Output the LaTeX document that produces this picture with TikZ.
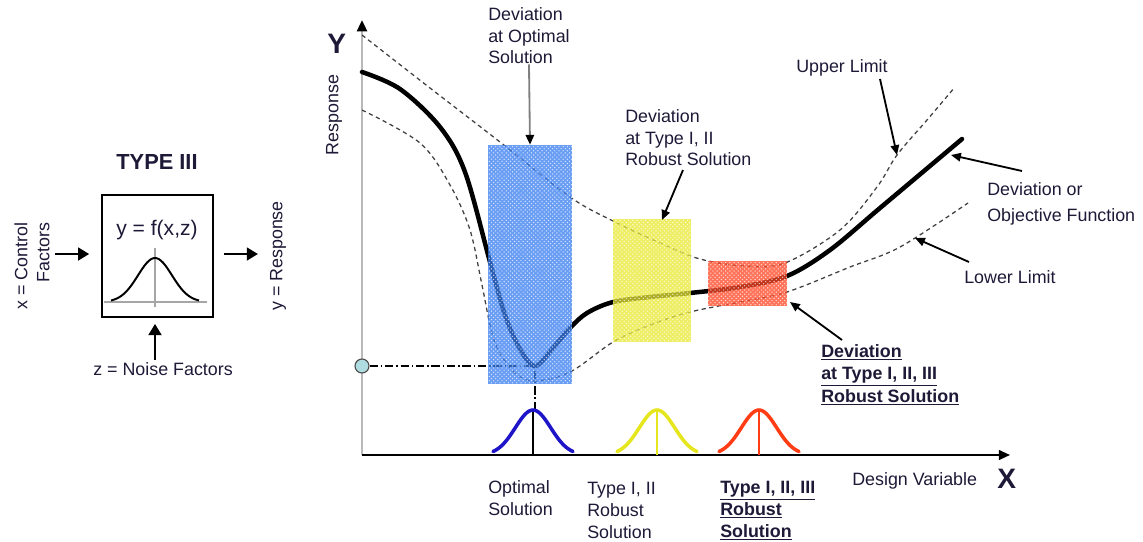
\documentclass[tikz,border=0pt]{standalone}
\usepackage{fontspec}
\setmainfont{Liberation Sans}
\usetikzlibrary{arrows.meta,patterns}
\definecolor{txt}{RGB}{30,25,55}
\definecolor{bluebox}{RGB}{55,125,240}
\definecolor{yellowbox}{RGB}{232,232,50}
\definecolor{redbox}{RGB}{255,70,35}
\definecolor{bluebell}{RGB}{30,20,200}
\definecolor{yellowbell}{RGB}{230,230,30}
\definecolor{redbell}{RGB}{255,60,20}
\definecolor{dotfill}{RGB}{175,220,225}
\tikzset{lbl/.style={font=\fontsize{12.7}{15.5}\selectfont,text=txt,align=left,inner sep=0pt,anchor=base west},
 mlbl/.style={lbl,anchor=north west},
 arr/.style={-{Triangle[length=7pt,width=6pt,color=black]},line width=1.3pt},
 bigarr/.style={-{Triangle[length=8pt,width=9pt]},line width=2pt},
 limit/.style={dash pattern=on 3pt off 2.5pt,line width=0.9pt,black!75},
 objcurve/.style={line width=3.2pt,line cap=round},
 bell/.style={line width=2.5pt,line cap=round},
 devrect/.style={fill=#1,fill opacity=0.75,draw=none,inner sep=0pt,
  postaction={pattern=crosshatch dots,pattern color=white}},
 dashdot/.style={dash pattern=on 6pt off 2pt on 1pt off 2pt,line width=0.8pt}}

\begin{document}
\begin{tikzpicture}[x=0.025cm,y=-0.025cm]
\useasboundingbox (0,0) rectangle (1143,541);
\node[font=\fontsize{15.5}{18}\selectfont\bfseries,text=txt,anchor=base] (typeLbl) at (157,169) {TYPE III};
\node[draw,line width=1.1pt,minimum width=2.775cm,minimum height=3.05cm] (sysBox) at (157.5,256) {};
\node[font=\fontsize{15}{18}\selectfont,text=txt,anchor=base] (fxzLbl) at (157,235) {y = f(x,z)};
\draw[gray!70,line width=0.8pt] (104,302) -- (207,302) (155,248) -- (155,307);
\draw[line width=1.4pt] plot[domain=-44:44,samples=45] ({155+\x},{302-44*exp(-(\x/24)*(\x/24))});
\node[lbl,anchor=center,rotate=90,align=right] (ctrlLbl) at (32,266) {x = Control\\Factors};
\node[lbl,anchor=center,rotate=90] (respOut) at (278,256) {y = Response};
\node[lbl,anchor=base] (noiseLbl) at (163,375) {z = Noise Factors};
\coordinate (ctrlIn) at (55,254);
\coordinate (respIn) at (258,254);
\coordinate (noiseIn) at (155,360);
\draw[bigarr,shorten >=8.5pt] (ctrlIn) -- (ctrlIn -| sysBox.west);
\draw[bigarr,shorten <=7pt] (sysBox.east |- respIn) -- (respIn);
\draw[bigarr,shorten >=4.3pt] (noiseIn) -- (noiseIn |- sysBox.south);

\coordinate (origin) at (362,455);
\coordinate (yTop) at (362,20);
\coordinate (xEnd) at (1010,455);
\coordinate (minPt) at (535,366);
\draw[gray!55,line width=1.8pt,-{Triangle[length=8pt,width=7pt,color=black]}] (origin) -- (yTop);
\draw[line width=1.4pt,-{Triangle[length=8pt,width=7pt]}] (origin) -- (xEnd);
\node[font=\fontsize{20}{24}\selectfont\bfseries,text=txt,inner sep=0pt,anchor=base west] (yLbl) at (327,53) {Y};
\node[font=\fontsize{20}{24}\selectfont\bfseries,text=txt,inner sep=0pt,anchor=base west] (xLbl) at (997,488) {X};
\node[lbl,anchor=center,rotate=90] (respLbl) at (334,115) {Response};
\node[lbl] (dvLbl) at (852,485) {Design Variable};

\draw[limit] plot[smooth,tension=0.55] coordinates {(362,35) (430,88) (500,142) (570,197) (613,221) (660,243) (700,259) (745,266) (785,263) (840,230) (877,187) (897,155) (927,120) (955,87)};
\draw[limit] plot[smooth,tension=0.55] coordinates {(362,110) (420,143) (450,185) (470,230) (482,285) (494,340) (512,370) (533,381) (570,372) (613,342) (650,325) (690,312) (740,302) (787,292) (850,267) (900,247) (968,203)};
\draw[objcurve] plot[smooth,tension=0.55] coordinates {(362,72) (400,89) (440,127) (465,172) (490,262) (505,315) (520,349) (535,366) (553,348) (570,328) (587,313) (613,302) (650,297) (690,293) (740,287) (787,276) (830,250) (880,208) (962,139)};

\node[circle,draw=black!70,fill=dotfill,line width=0.8pt,minimum size=0.35cm,inner sep=0pt] (yOpt) at (362,366) {};
\draw[dashdot] (yOpt) -- (minPt) -- (535,410);

\node[devrect=bluebox,minimum width=2.1cm,minimum height=5.975cm] (optBox) at (530,264.5) {};
\node[devrect=yellowbox,minimum width=1.95cm,minimum height=3.075cm] (t12Box) at (652,280.5) {};
\node[devrect=redbox,minimum width=1.975cm,minimum height=1.125cm] (t123Box) at (747.5,283.5) {};

\foreach \c/\col/\mid in {533/bluebell/black,657/yellowbell/yellowbell,759/redbell/redbell}{
 \draw[\mid,line width=1pt] (\c,410) -- (\c,455);
 \draw[bell,\col] plot[domain=-40:40,samples=41] ({\c+\x},{455-45*exp(-(\x/25)*(\x/25))});}

\node[mlbl] (optLbl) at (488,7) {Deviation\\at Optimal\\Solution};
\node[mlbl] (t12Lbl) at (625,109) {Deviation\\at Type I, II\\Robust Solution};
\node[lbl] (uppLbl) at (796,72) {Upper Limit};
\node[mlbl] (objLbl) at (987,182) {Deviation or\\[3pt]Objective Function};
\node[lbl] (lowLbl) at (964,283) {Lower Limit};
\node[mlbl,font=\fontsize{12.7}{16}\selectfont\bfseries] (t123Lbl) at (821,344) {\underline{Deviation}\\\underline{at Type I, II, III}\\\underline{Robust Solution}};
\node[mlbl] (optSol) at (488,480) {Optimal\\Solution};
\node[mlbl] (t12Sol) at (587,482) {Type I, II\\Robust\\Solution};
\node[mlbl,font=\fontsize{12.7}{15.5}\selectfont\bfseries] (t123Sol) at (720,481) {\underline{Type I, II, III}\\\underline{Robust}\\\underline{Solution}};

\coordinate (t12Tail) at (683,170);
\coordinate (t12Tip) at (662,220);
\coordinate (uppTail) at (880,79);
\coordinate (uppTip) at (897,155);
\coordinate (objTail) at (1022,171);
\coordinate (objTip) at (951,155);
\coordinate (lowTail) at (969,262);
\coordinate (lowTip) at (915,238);
\coordinate (t123Tail) at (842,340);
\coordinate (t123Tip) at (790,302);
\draw[arr,gray] (optLbl.south) -- (optBox.north);
\foreach \n in {t12,upp,obj,low,t123}{\draw[arr] (\n Tail) -- (\n Tip);}
\end{tikzpicture}
\end{document}
